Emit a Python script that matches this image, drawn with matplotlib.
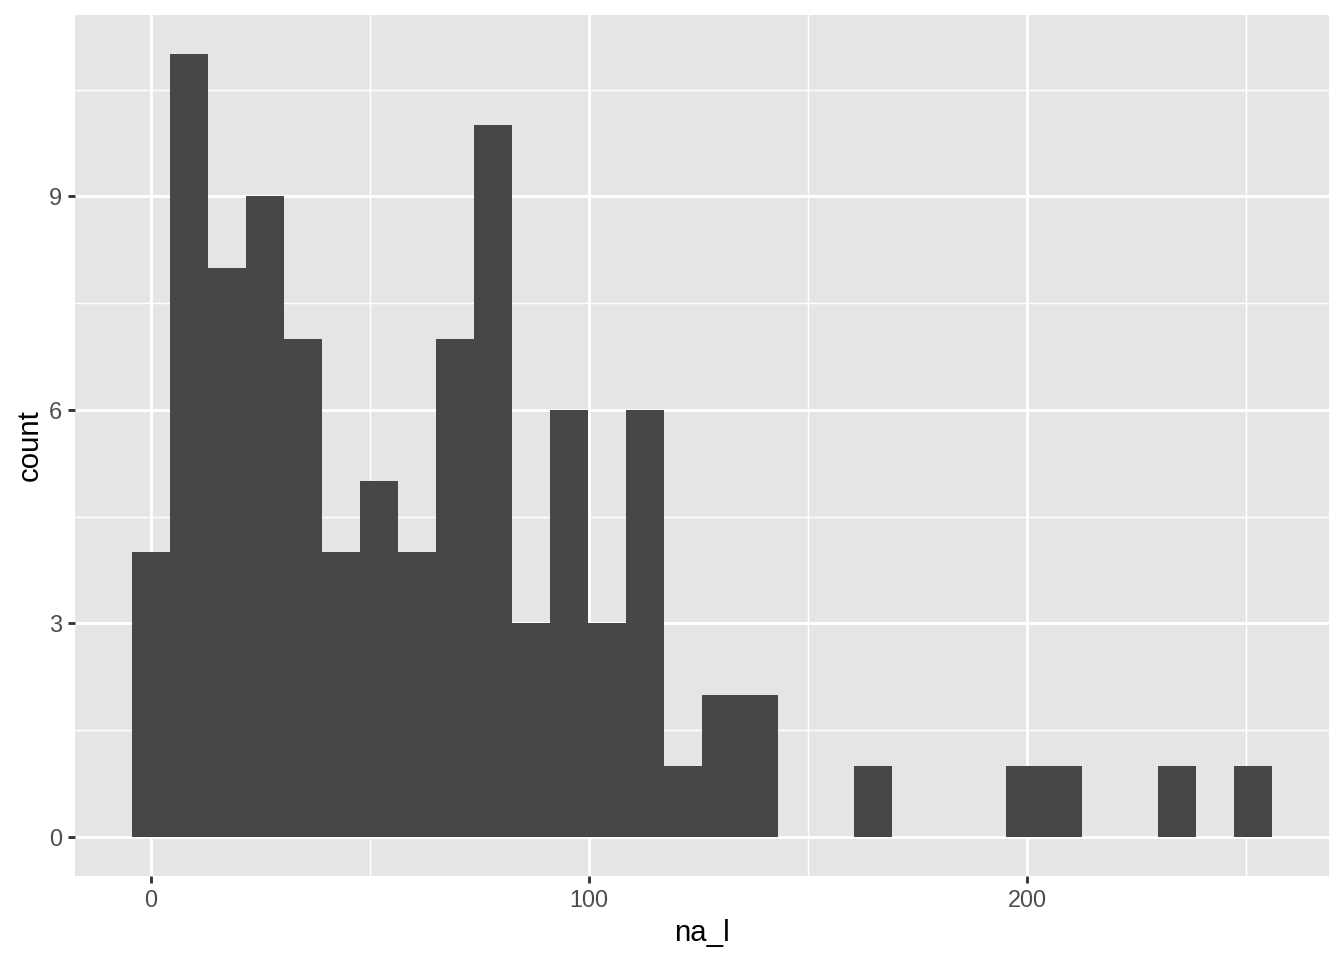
import numpy as np
import matplotlib.pyplot as plt

# histogram of na_l, 30 bins (counts)
bin_lo = -4.34
bin_hi = 255.9
counts = [4, 11, 8, 9, 7, 4, 5, 4, 7, 10, 3, 6, 3, 6, 1, 2, 2, 0, 0, 1,
          0, 0, 0, 1, 1, 0, 0, 1, 0, 1]
x_breaks = [0, 100, 200]
x_minor = [50, 150, 250]
y_breaks = [0, 3, 6, 9]
y_minor = [1.5, 4.5, 7.5, 10.5]

plt.rcParams['font.family'] = ['Liberation Sans', 'DejaVu Sans']

edges = np.linspace(bin_lo, bin_hi, len(counts) + 1)
width = edges[1] - edges[0]

fig = plt.figure(figsize=(7, 5), dpi=192)
ax = fig.add_axes([75 / 1344, 84 / 960, (1329 - 75) / 1344, (876 - 15) / 960])
ax.set_facecolor('#E5E5E5')

xr = bin_hi - bin_lo
ax.set_xlim(bin_lo - 0.05 * xr, bin_hi + 0.05 * xr)
ax.set_ylim(-0.05 * max(counts), 1.05 * max(counts))

# grid
for v in x_minor:
    ax.axvline(v, color='white', lw=0.55, zorder=0)
for v in y_minor:
    ax.axhline(v, color='white', lw=0.55, zorder=0)
for v in x_breaks:
    ax.axvline(v, color='white', lw=1.1, zorder=0)
for v in y_breaks:
    ax.axhline(v, color='white', lw=1.1, zorder=0)

ax.bar(edges[:-1], counts, width=width, align='edge', color='#474747',
       linewidth=0, zorder=2)

ax.set_xticks(x_breaks)
ax.set_yticks(y_breaks)
ax.tick_params(axis='both', length=2.75, width=1.07, color='#333333',
               labelcolor='#4D4D4D', labelsize=8.8, pad=2.2)
for s in ax.spines.values():
    s.set_visible(False)

ax.set_xlabel('na_l', fontsize=11, color='black', labelpad=2.5)
ax.set_ylabel('count', fontsize=11, color='black', labelpad=1.8)

fig.savefig('out.png', dpi=192)
